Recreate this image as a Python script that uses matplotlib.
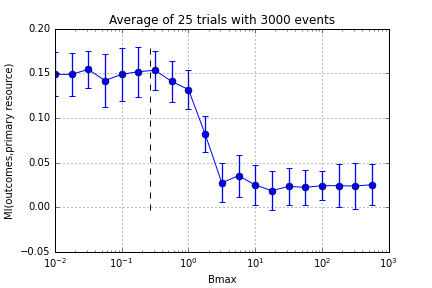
import numpy as np
import matplotlib
matplotlib.use('Agg')
from matplotlib import pyplot as plt

plt.style.use('classic')

# Bmax values (log spaced) and mean MI with spread over the trials
bmax = [0.01, 0.0178, 0.0316, 0.0562, 0.1, 0.178, 0.316, 0.562, 1.0, 1.78,
        3.16, 5.62, 10.0, 17.8, 31.6, 56.2, 100.0, 178.0, 316.0, 562.0]
mi = [0.149, 0.149, 0.1545, 0.142, 0.149, 0.152, 0.1535, 0.141, 0.132, 0.082,
      0.0275, 0.0355, 0.025, 0.0187, 0.0235, 0.0224, 0.0243, 0.0243, 0.0239, 0.0254]
mi_err = [0.0245, 0.024, 0.021, 0.030, 0.030, 0.028, 0.0215, 0.0225, 0.022, 0.0205,
          0.022, 0.0235, 0.022, 0.022, 0.021, 0.020, 0.0161, 0.0239, 0.0255, 0.0228]
cutoff = 0.27
cut_range = [-0.003, 0.178]

fig = plt.figure(figsize=(6, 4), dpi=72)
ax = fig.add_axes([0.127, 0.125, 0.773, 0.775])

ax.errorbar(bmax, mi, yerr=mi_err, fmt='o-', color='b', ecolor='b', capsize=3,
            markersize=7, linewidth=1, elinewidth=1.3, capthick=1)
ax.vlines(cutoff, cut_range[0], cut_range[1], colors='k', linestyles='dashed')

ax.set_xscale('log')
ax.set_xlim(1e-2, 1e3)
ax.set_ylim(-0.05, 0.20)
ax.grid(True)
ax.set_title('Average of 25 trials with 3000 events', fontsize=12)
ax.set_xlabel('Bmax', fontsize=10)
ax.set_ylabel('MI(outcomes,primary resource)', fontsize=10)
ax.tick_params(labelsize=10)

fig.savefig('out.png', dpi=72)
